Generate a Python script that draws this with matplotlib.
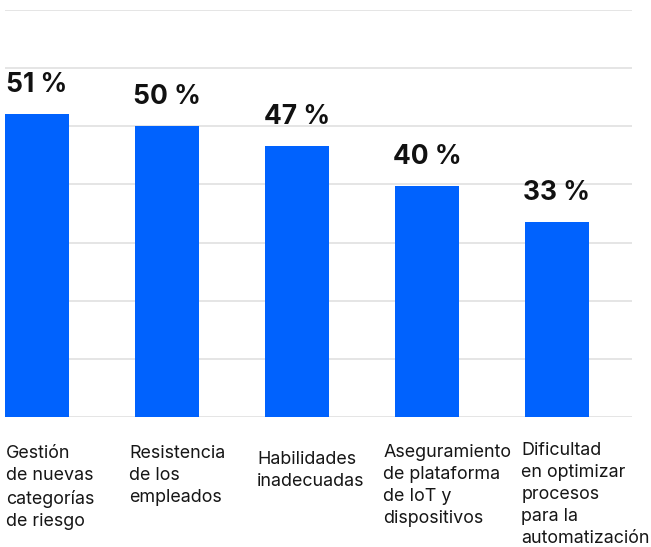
import matplotlib.pyplot as plt
import numpy as np

categories = [
    'Gestión\nde nuevas\ncategorías\nde riesgo',
    'Resistencia\nde los\nempleados',
    'Habilidades\ninadecuadas',
    'Aseguramiento\nde plataforma\nde IoT y\ndispositivos',
    'Dificultad\nen optimizar\nprocesos\npara la\nautomatización',
]
heights = [52.1, 50.1, 46.6, 39.7, 33.5]
labels = ['51 %', '50 %', '47 %', '40 %', '33 %']

blue = '#0062fe'
width = 0.49
# label nudges in pixels (x from bar left edge, y below the baseline)
label_dx = [1, -6, -8, -12, -4]
label_dy = [28, 28, 34, 27, 25]

fig = plt.figure(figsize=(6.51, 5.47), dpi=100)
ax = fig.add_axes([5 / 651, 130 / 547, 627 / 651, 407 / 547])

x = np.arange(len(categories))
bars = ax.bar(x, heights, width=width, color=blue, zorder=2)

for b, lab in zip(bars, labels):
    ax.annotate(lab, (b.get_x() + b.get_width() / 2, b.get_height()),
                xytext=(0, 29), textcoords='offset pixels',
                ha='center', va='center', fontsize=19,
                fontweight='bold', family='Inter', color='#111111')

for b, cat, dx, dy in zip(bars, categories, label_dx, label_dy):
    ax.annotate(cat, (b.get_x(), 0), xytext=(dx, -dy),
                textcoords='offset pixels', ha='left', va='top',
                fontsize=12.9, family='Inter', color='#161616',
                linespacing=1.39, annotation_clip=False)

ax.set_xlim(-0.246, 4.577)
ax.set_ylim(0, 70)
ax.set_yticks(np.arange(0, 71, 10))
ax.yaxis.grid(True, color='#e0e0e0', linewidth=1.2, zorder=0)
ax.tick_params(axis='y', left=False, labelleft=False)
ax.set_xticks([])
for s in ax.spines.values():
    s.set_visible(False)

fig.savefig('out.png', dpi=100)
